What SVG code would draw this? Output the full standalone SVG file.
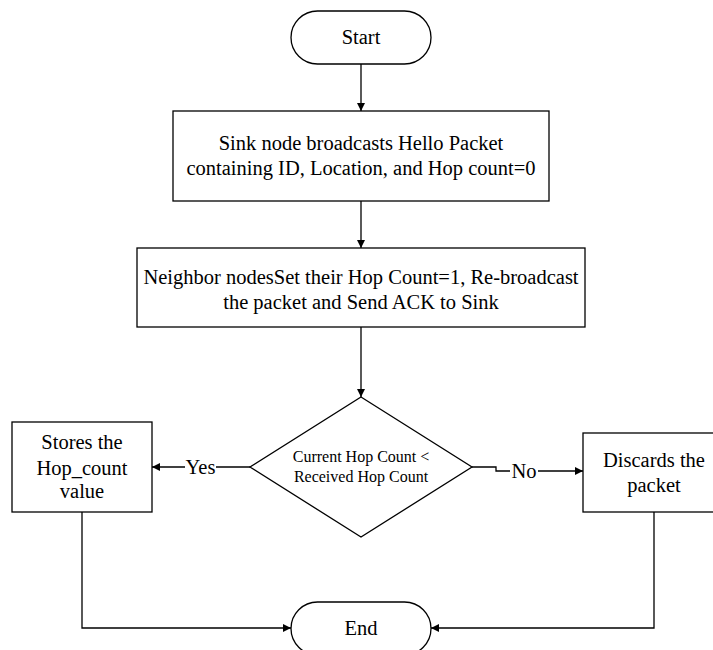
<svg xmlns="http://www.w3.org/2000/svg" width="713" height="650" viewBox="0 0 713 650">
<defs>
<marker id="ah" viewBox="0 0 10 10" refX="10" refY="5" markerWidth="8" markerHeight="8" markerUnits="userSpaceOnUse" orient="auto">
<path d="M0,0 L10,5 L0,10 z" fill="#000"/>
</marker>
<style>
.s{fill:#fff;stroke:#000;stroke-width:1.3}
.c{fill:none;stroke:#000;stroke-width:1.3;marker-end:url(#ah)}
.l{fill:none;stroke:#000;stroke-width:1.3}
text{font-family:"Liberation Serif","Times New Roman",serif;fill:#000;text-anchor:middle}
.t{font-size:20.5px}
.d{font-size:16px}
.lb{font-size:20.5px}
</style>
</defs>
<rect width="713" height="650" fill="#fff"/>
<g id="connectors">
<path class="c" d="M361,64 V111"/>
<path class="c" d="M361,201 V248"/>
<path class="c" d="M361,327 V397"/>
<path class="l" d="M250,467 H216"/>
<path class="c" d="M185,467 H152"/>
<text class="lb" x="200.5" y="474">Yes</text>
<path class="l" d="M472,467 H496 V471 H510"/>
<path class="c" d="M538,471 H583"/>
<text class="lb" x="524" y="478">No</text>
<path class="c" d="M82,512 V628 H291"/>
<path class="c" d="M654,512 V628 H431"/>
</g>
<g id="start">
<rect class="s" x="291" y="11" width="140" height="53" rx="26.5"/>
<text class="t" x="361" y="44">Start</text>
</g>
<g id="sink">
<rect class="s" x="173" y="111" width="376" height="90"/>
<text class="t" x="361" y="150">Sink node broadcasts Hello Packet</text>
<text class="t" x="361" y="175">containing ID, Location, and Hop count=0</text>
</g>
<g id="neighbor">
<rect class="s" x="137" y="248" width="448" height="79"/>
<text class="t" x="361" y="284">Neighbor nodesSet their Hop Count=1, Re-broadcast</text>
<text class="t" x="361" y="309">the packet and Send ACK to Sink</text>
</g>
<g id="decision">
<polygon class="s" points="361,397 472,467 361,537 250,467"/>
<text class="d" x="361" y="462">Current Hop Count &lt;</text>
<text class="d" x="361" y="482">Received Hop Count</text>
</g>
<g id="stores">
<rect class="s" x="12" y="422" width="140" height="90"/>
<text class="t" x="82" y="449">Stores the</text>
<text class="t" x="82" y="475">Hop_count</text>
<text class="t" x="82" y="498">value</text>
</g>
<g id="discards">
<rect class="s" x="583" y="433" width="142" height="79"/>
<text class="t" x="654" y="467">Discards the</text>
<text class="t" x="654" y="492">packet</text>
</g>
<g id="end">
<rect class="s" x="291" y="602" width="140" height="53" rx="26.5"/>
<text class="t" x="361" y="635">End</text>
</g>
</svg>
